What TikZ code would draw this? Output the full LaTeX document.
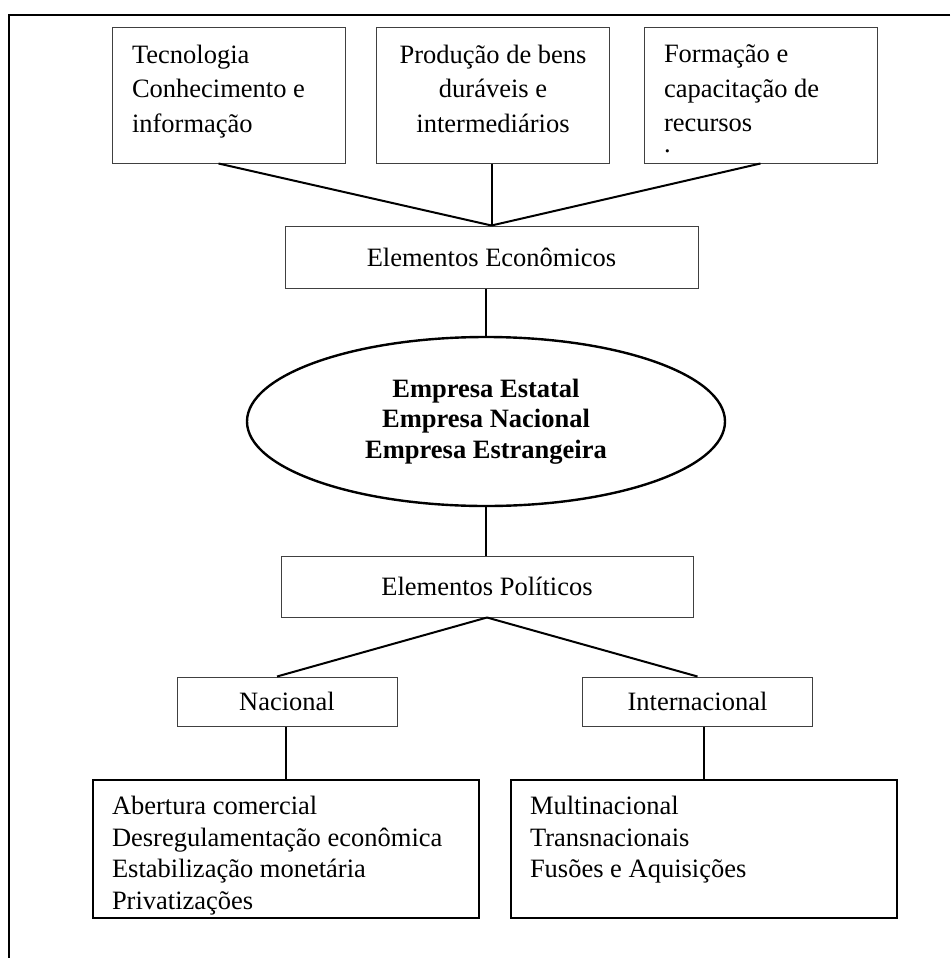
\documentclass[tikz,border=0pt]{standalone}
\usepackage{fontspec}
\setmainfont{Liberation Serif}
\usetikzlibrary{shapes.geometric}

\begin{document}
\begin{tikzpicture}[x=0.5pt,y=-0.5pt,
    caixa/.style={draw=black!75,line width=0.5pt,inner sep=0pt,
      font=\fontsize{13.25}{17.25}\selectfont},
    caixatopo/.style={caixa,minimum width=116.5pt,minimum height=68pt,
      inner xsep=10pt,inner ysep=9pt},
    caixagrossa/.style={draw=black,line width=1pt,minimum width=193pt,minimum height=69pt,
      inner xsep=9.5pt,inner ysep=8pt,font=\fontsize{13.25}{15.9}\selectfont},
    ligacao/.style={line width=1pt}]
\useasboundingbox (0,0) rectangle (950,958);
% Moldura (so em cima e a esquerda)
\draw[line width=1pt] (950,15) -- (9,15) -- (9,958);
% Caixas de cima
\node[caixatopo] (tec) at (228.5,95)
  {\parbox[c][50pt][t]{96.5pt}{Tecnologia\\Conhecimento e\\informação}};
\node[caixatopo] (prod) at (493,95)
  {\parbox[c][50pt][t]{96.5pt}{\centering Produção de bens\\duráveis e\\intermediários}};
\node[caixatopo] (form) at (760.5,95)
  {\parbox[c][50pt][t]{96.5pt}{Formação e\\capacitação de\\recursos\\[-7pt].}};
% Elementos economicos
\node[caixa,minimum width=206.5pt,minimum height=31pt] (econ) at (491.5,257)
  {Elementos Econômicos};
\draw[ligacao] ([xshift=-5pt]tec.south) -- (econ.north);
\draw[ligacao] (econ.north |- prod.south) -- (econ.north);
\draw[ligacao] (form.south) -- (econ.north);
% Empresas
\node[ellipse,draw,line width=1.2pt,minimum width=239pt,minimum height=84.5pt,
  inner sep=0pt,align=center,font=\fontsize{13.25}{15.25}\selectfont\bfseries]
  (empresas) at (486,421.5)
  {Empresa Estatal\\Empresa Nacional\\Empresa Estrangeira};
\draw[ligacao] (econ.south -| empresas.north) -- (empresas.north);
% Elementos politicos
\node[caixa,minimum width=206pt,minimum height=30.5pt] (poli) at (487,586.5)
  {Elementos Políticos};
\draw[ligacao] (empresas.south) -- (empresas.south |- poli.north);
\node[caixa,minimum width=110pt,minimum height=24.5pt] (nac) at (287,701.5) {Nacional};
\node[caixa,minimum width=115pt,minimum height=24.5pt] (inter) at (697.5,701.5) {Internacional};
\draw[ligacao] (poli.south) -- ([xshift=-5pt]nac.north);
\draw[ligacao] (poli.south) -- (inter.north);
% Caixas de baixo
\node[caixagrossa] (abertura) at (286,849)
  {\parbox[c][53pt][t]{174pt}{Abertura comercial\\Desregulamentação econômica\\Estabilização monetária\\Privatizações}};
\node[caixagrossa] (multi) at (704,849)
  {\parbox[c][53pt][t]{174pt}{Multinacional\\Transnacionais\\Fusões e Aquisições}};
\draw[ligacao] (abertura.north |- nac.south) -- (abertura.north);
\draw[ligacao] (multi.north |- inter.south) -- (multi.north);
\end{tikzpicture}
\end{document}
